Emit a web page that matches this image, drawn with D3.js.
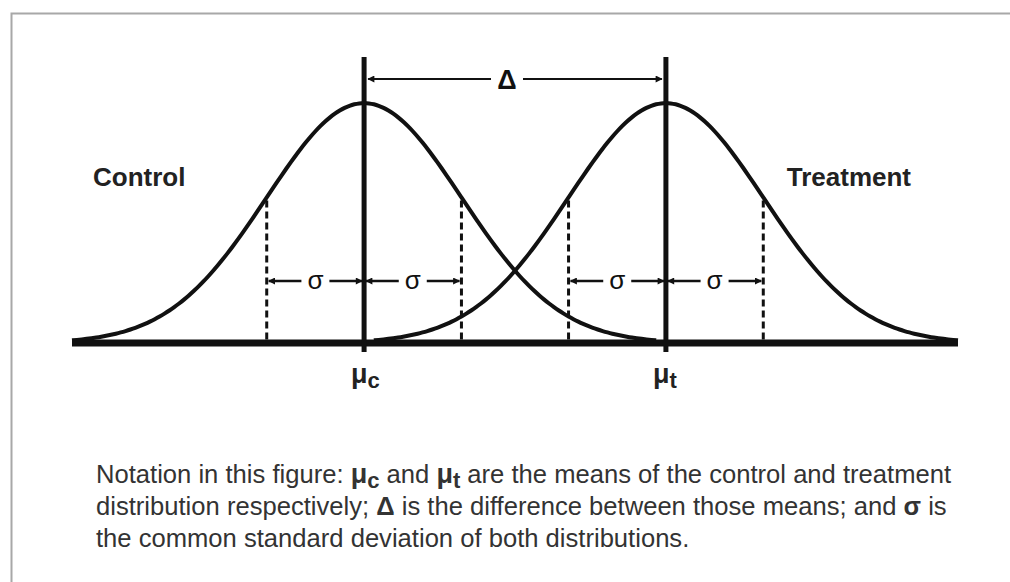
<!DOCTYPE html>
<html>
<head>
<meta charset="utf-8">
<script src="https://cdn.jsdelivr.net/npm/d3@7"></script>
<style>
  body { margin: 0; background: #fff; }
  svg { display: block; font-family: "Liberation Sans", Arial, sans-serif; }
</style>
</head>
<body>
<div id="chart"></div>
<script>
// groups and their means, in units of the common sd
const groups = ["Control", "Treatment"];
const means = [0, 3.1];
const subs = ["c", "t"];
const sigma = 1;
const xDomain = [-3, 6.1];

const captionLines = [
  [["Notation in this figure: ", 0], ["μ", 1], ["c", 2], [" and ", 0], ["μ", 1], ["t", 2],
   [" are the means of the control and treatment", 0]],
  [["distribution respectively; ", 0], ["Δ", 1], [" is the difference between those means; and ", 0],
   ["σ", 1], [" is", 0]],
  [["the common standard deviation of both distributions.", 0]]
];

const W = 1010, H = 582;
const svg = d3.select("#chart").append("svg")
  .attr("width", W)
  .attr("height", H);

// frame
svg.append("path")
  .attr("d", `M11.5,${H} V13.5 H${W}`)
  .attr("fill", "none")
  .attr("stroke", "#a8a8a8")
  .attr("stroke-width", 2);

const x = d3.scaleLinear().domain(xDomain).range([72, 958]);
const pdf = z => Math.exp(-z * z / 2) / Math.sqrt(2 * Math.PI);
const y = d3.scaleLinear().domain([0, pdf(0)]).range([343, 103]);

const defs = svg.append("defs");
defs.append("marker")
  .attr("id", "arr")
  .attr("viewBox", "0 0 10 10")
  .attr("refX", 9).attr("refY", 5)
  .attr("markerWidth", 9).attr("markerHeight", 7)
  .attr("markerUnits", "userSpaceOnUse")
  .attr("orient", "auto-start-reverse")
  .append("path")
  .attr("d", "M0,0 L10,5 L0,10 z")
  .attr("fill", "#111");

// normal curves
const line = d3.line().x(d => x(d[0])).y(d => y(d[1])).curve(d3.curveBasis);
svg.selectAll(".curve")
  .data(means)
  .enter()
  .append("path")
  .attr("class", "curve")
  .attr("d", m => line(d3.range(-3.0, 3.001, 0.05).map(z => [m + z * sigma, pdf(z)])))
  .attr("fill", "none")
  .attr("stroke", "#111")
  .attr("stroke-width", 4);

// dashed ±1 sd lines
const sdPoints = [];
means.forEach(m => { sdPoints.push(m - sigma); sdPoints.push(m + sigma); });
svg.selectAll(".sd")
  .data(sdPoints)
  .enter()
  .append("line")
  .attr("x1", d => x(d)).attr("x2", d => x(d))
  .attr("y1", y(pdf(1)) + 3)
  .attr("y2", y(0))
  .attr("stroke", "#111")
  .attr("stroke-width", 3)
  .attr("stroke-dasharray", "7,4");

// baseline
svg.append("line")
  .attr("x1", x(xDomain[0])).attr("x2", x(xDomain[1]))
  .attr("y1", 343).attr("y2", 343)
  .attr("stroke", "#111")
  .attr("stroke-width", 7);

// mean lines
svg.selectAll(".mean")
  .data(means)
  .enter()
  .append("line")
  .attr("x1", d => x(d)).attr("x2", d => x(d))
  .attr("y1", 57).attr("y2", 352)
  .attr("stroke", "#111")
  .attr("stroke-width", 5);

// sd arrows
const arrowY = 281;
const spans = [];
means.forEach(m => { spans.push([m - sigma, m]); spans.push([m, m + sigma]); });
spans.forEach(s => {
  const a = x(s[0]) + 2, b = x(s[1]) - 2, c = (a + b) / 2;
  [[c - 14, a], [c + 14, b]].forEach(seg => {
    svg.append("line")
      .attr("x1", seg[0]).attr("x2", seg[1])
      .attr("y1", arrowY).attr("y2", arrowY)
      .attr("stroke", "#111")
      .attr("stroke-width", 2.5)
      .attr("marker-end", "url(#arr)");
  });
  svg.append("text")
    .attr("x", c).attr("y", arrowY + 8)
    .attr("text-anchor", "middle")
    .attr("font-size", 26)
    .attr("fill", "#111")
    .text("σ");
});

// delta arrow
const dY = 79;
const dc = (x(means[0]) + x(means[1])) / 2 - 8;
[[dc - 16, x(means[0]) + 4], [dc + 16, x(means[1]) - 4]].forEach(seg => {
  svg.append("line")
    .attr("x1", seg[0]).attr("x2", seg[1])
    .attr("y1", dY).attr("y2", dY)
    .attr("stroke", "#111")
    .attr("stroke-width", 2)
    .attr("marker-end", "url(#arr)");
});
svg.append("text")
  .attr("x", dc).attr("y", dY + 10)
  .attr("text-anchor", "middle")
  .attr("font-size", 27)
  .attr("font-weight", "bold")
  .attr("fill", "#111")
  .text("Δ");

// group labels
svg.selectAll(".glabel")
  .data(groups)
  .enter()
  .append("text")
  .attr("x", (d, i) => i === 0 ? 93 : 911)
  .attr("y", 186)
  .attr("text-anchor", (d, i) => i === 0 ? "start" : "end")
  .attr("font-size", 26)
  .attr("font-weight", "bold")
  .attr("fill", "#222")
  .text(d => d);

// mean labels
const ml = svg.selectAll(".mlabel")
  .data(means)
  .enter()
  .append("text")
  .attr("x", d => x(d) - 13)
  .attr("y", 383)
  .attr("font-weight", "bold")
  .attr("fill", "#222");
ml.append("tspan").attr("font-size", 27).text("μ");
ml.append("tspan").attr("font-size", 22).attr("dy", 5).text((d, i) => subs[i]);

// caption
const cap = svg.append("g").attr("fill", "#333").attr("font-size", 25.6);
captionLines.forEach((parts, li) => {
  const t = cap.append("text").attr("x", 96).attr("y", 483 + li * 32);
  parts.forEach((p, pi) => {
    const ts = t.append("tspan").text(p[0]);
    if (p[1] >= 1) ts.attr("font-weight", "bold");
    if (p[1] === 1 && parts[pi + 1] && parts[pi + 1][1] === 2) ts.attr("font-size", 27);
    if (p[1] === 2) ts.attr("font-size", 22).attr("dy", 5);
    if (pi > 0 && parts[pi - 1][1] === 2) ts.attr("dy", -5);
  });
});
</script>
</body>
</html>
